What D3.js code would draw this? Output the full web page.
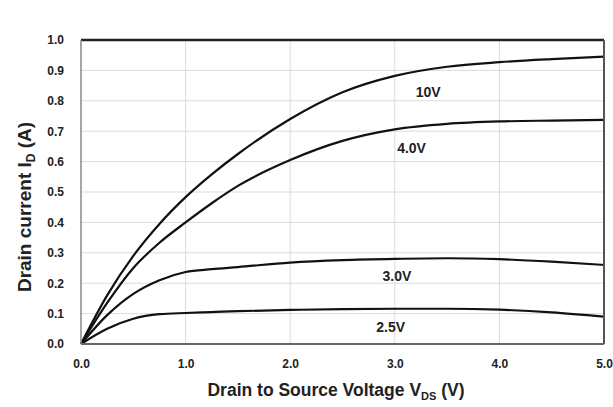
<!DOCTYPE html>
<html>
<head>
<meta charset="utf-8">
<script src="https://cdn.jsdelivr.net/npm/d3@7"></script>
<style>
  html, body { margin: 0; padding: 0; background: #fff; }
  svg { display: block; }
  text { font-family: "Liberation Sans Narrow", "Arial Narrow", "Liberation Sans", Arial, sans-serif; font-weight: bold; fill: #222; }
</style>
</head>
<body>
<svg id="chart" width="613" height="407"></svg>
<script>
// Drain-source voltage sample points (V)
const vds = [0, 0.25, 0.5, 0.75, 1.0, 1.25, 1.5, 2.0, 2.5, 3.0, 3.5, 4.0, 4.5, 5.0];

// Drain current (A) for each gate voltage
const id10V  = [0, 0.16, 0.29, 0.395, 0.483, 0.558, 0.625, 0.74, 0.828, 0.882, 0.912, 0.927, 0.937, 0.945];
const id4V   = [0, 0.135, 0.25, 0.333, 0.40, 0.463, 0.52, 0.605, 0.668, 0.706, 0.724, 0.732, 0.735, 0.737];
const id3V   = [0, 0.095, 0.165, 0.21, 0.237, 0.246, 0.253, 0.268, 0.276, 0.28, 0.282, 0.279, 0.271, 0.26];
const id2_5V = [0, 0.05, 0.083, 0.098, 0.102, 0.105, 0.108, 0.112, 0.115, 0.116, 0.116, 0.113, 0.104, 0.09];

const seriesNames = ["10V", "4.0V", "3.0V", "2.5V"];
const seriesValues = [id10V, id4V, id3V, id2_5V];
// Where each curve's label sits, in data units
const labelX = [3.32, 3.16, 3.02, 2.96];
const labelY = [0.83, 0.645, 0.225, 0.055];

const xTicks = [0, 1, 2, 3, 4, 5];
const yTicks = [0, 0.1, 0.2, 0.3, 0.4, 0.5, 0.6, 0.7, 0.8, 0.9, 1.0];

const W = 613, H = 407;
const margin = { top: 40, right: 9, bottom: 63, left: 81 };
const svg = d3.select("#chart");

const x = d3.scaleLinear().domain([0, 5]).range([margin.left, W - margin.right]);
const y = d3.scaleLinear().domain([0, 1]).range([H - margin.bottom, margin.top]);

// Gridlines
svg.append("g")
  .selectAll("line")
  .data(xTicks.slice(1, -1))
  .join("line")
  .attr("x1", d => x(d)).attr("x2", d => x(d))
  .attr("y1", y(0)).attr("y2", y(1))
  .attr("stroke", "#dcdcdc").attr("stroke-width", 1);

svg.append("g")
  .selectAll("line")
  .data(yTicks.slice(1, -1))
  .join("line")
  .attr("x1", x(0)).attr("x2", x(5))
  .attr("y1", d => y(d)).attr("y2", d => y(d))
  .attr("stroke", "#dcdcdc").attr("stroke-width", 1);

// Axes (labels only, no tick marks)
const xAxis = d3.axisBottom(x).tickValues(xTicks).tickFormat(d3.format(".1f")).tickSize(0).tickPadding(15);
const yAxis = d3.axisLeft(y).tickValues(yTicks).tickFormat(d3.format(".1f")).tickSize(0).tickPadding(17);

const gx = svg.append("g").attr("transform", `translate(0,${y(0)})`).call(xAxis);
const gy = svg.append("g").attr("transform", `translate(${x(0)},0)`).call(yAxis);
[gx, gy].forEach(g => {
  g.select(".domain").remove();
  g.selectAll("text").style("font-size", "12px").attr("fill", "#333");
});

// Curves
const line = d3.line()
  .x((d, i) => x(vds[i]))
  .y(d => y(d))
  .curve(d3.curveMonotoneX);

svg.append("g")
  .selectAll("path")
  .data(seriesValues)
  .join("path")
  .attr("d", line)
  .attr("fill", "none")
  .attr("stroke", "#111")
  .attr("stroke-width", 2.2)
  .attr("stroke-linejoin", "round");

// Curve labels
svg.append("g")
  .selectAll("text")
  .data(seriesNames)
  .join("text")
  .attr("x", (d, i) => x(labelX[i]))
  .attr("y", (d, i) => y(labelY[i]))
  .attr("text-anchor", "middle")
  .attr("dominant-baseline", "central")
  .style("font-size", "14px")
  .text(d => d);

// Plot frame
svg.append("line").attr("x1", x(0)).attr("x2", x(5)).attr("y1", y(1)).attr("y2", y(1))
  .attr("stroke", "#222").attr("stroke-width", 2.5);
svg.append("line").attr("x1", x(5)).attr("x2", x(5)).attr("y1", y(1)).attr("y2", y(0))
  .attr("stroke", "#555").attr("stroke-width", 2);
svg.append("line").attr("x1", x(0)).attr("x2", x(5)).attr("y1", y(0)).attr("y2", y(0))
  .attr("stroke", "#666").attr("stroke-width", 2);
svg.append("line").attr("x1", x(0)).attr("x2", x(0)).attr("y1", y(1)).attr("y2", y(0))
  .attr("stroke", "#888").attr("stroke-width", 1.5);

// Axis titles
const xt = svg.append("text")
  .attr("x", 336).attr("y", 396)
  .attr("text-anchor", "middle")
  .style("font-size", "17.5px");
xt.append("tspan").text("Drain to Source Voltage V");
xt.append("tspan").attr("dy", 4).style("font-size", "11px").text("DS");
xt.append("tspan").attr("dy", -4).text(" (V)");

const yt = svg.append("text")
  .attr("transform", "translate(31,207) rotate(-90)")
  .attr("text-anchor", "middle")
  .style("font-size", "19px");
yt.append("tspan").text("Drain current I");
yt.append("tspan").attr("dy", 4).style("font-size", "12px").text("D");
yt.append("tspan").attr("dy", -4).text(" (A)");
</script>
</body>
</html>
